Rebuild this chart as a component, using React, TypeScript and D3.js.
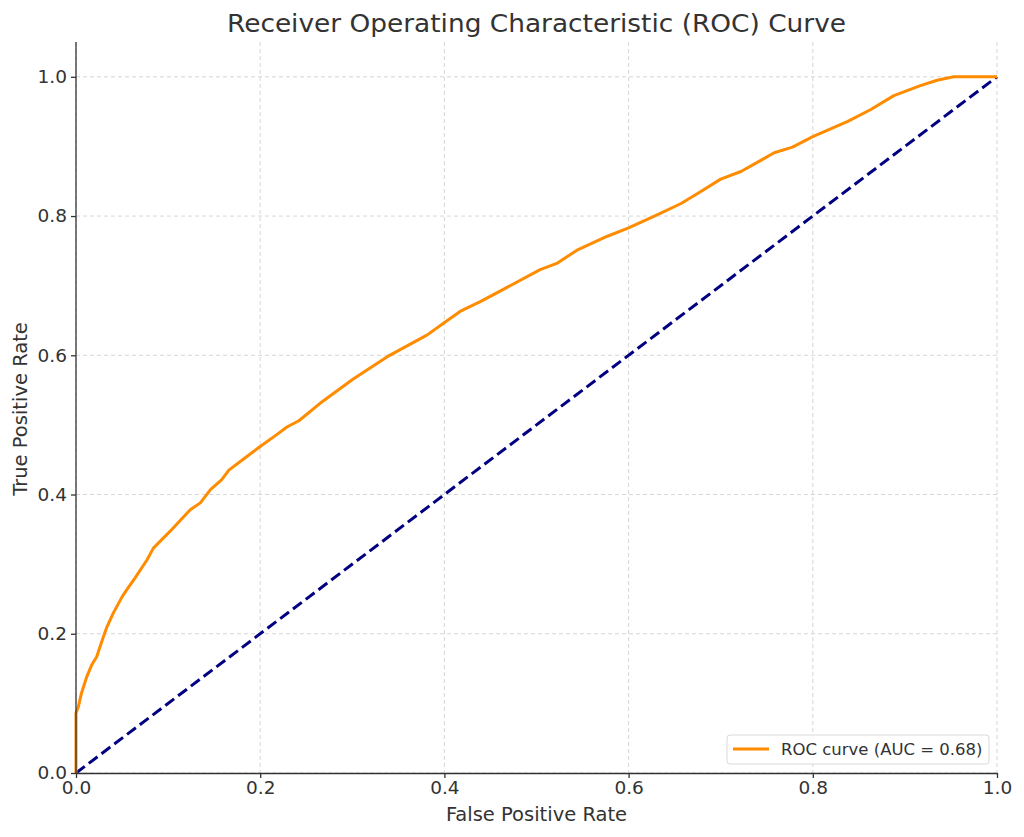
import { useEffect, useRef } from 'react';
import * as d3 from 'd3';

// ROC curve points
const fpr = [0, 0, 0.0025, 0.006, 0.0116, 0.017, 0.0225, 0.028, 0.033, 0.0406, 0.05, 0.055, 0.064, 0.077,
  0.084, 0.102, 0.124, 0.135, 0.146, 0.158, 0.166, 0.178, 0.2, 0.218, 0.229, 0.242, 0.265, 0.301, 0.338,
  0.381, 0.399, 0.417, 0.439, 0.463, 0.504, 0.522, 0.544, 0.577, 0.6, 0.628, 0.657, 0.678, 0.7, 0.722,
  0.745, 0.758, 0.778, 0.8, 0.838, 0.863, 0.888, 0.916, 0.935, 0.953, 1.0];
const tpr = [0, 0.086, 0.095, 0.115, 0.138, 0.155, 0.167, 0.189, 0.208, 0.23, 0.253, 0.263, 0.28, 0.306,
  0.323, 0.347, 0.378, 0.388, 0.407, 0.421, 0.435, 0.447, 0.469, 0.486, 0.497, 0.506, 0.531, 0.566, 0.598,
  0.629, 0.646, 0.663, 0.677, 0.694, 0.723, 0.732, 0.751, 0.771, 0.783, 0.8, 0.818, 0.835, 0.853, 0.864,
  0.881, 0.891, 0.899, 0.914, 0.936, 0.953, 0.973, 0.987, 0.995, 1.0, 1.0];
const chanceLine = [0, 1];
const tickValues = [0, 0.2, 0.4, 0.6, 0.8, 1.0];
const aucLabel = 'ROC curve (AUC = 0.68)';

const width = 1024;
const height = 837;
const margin = { top: 42, right: 27, bottom: 64, left: 76 };

export default function App() {
  const svgRef = useRef<SVGSVGElement>(null);

  useEffect(() => {
    document.body.style.margin = '0';
    if (!svgRef.current) return;
    const svg = d3.select(svgRef.current);
    svg.selectAll('*').remove();

    const innerW = width - margin.left - margin.right;
    const innerH = height - margin.top - margin.bottom;
    const font = 'DejaVu Sans, sans-serif';
    const textColor = '#333';

    const x = d3.scaleLinear().domain([0, 1]).range([0, innerW]);
    const y = d3.scaleLinear().domain([0, 1.05]).range([innerH, 0]);

    const g = svg.append('g').attr('transform', `translate(${margin.left},${margin.top})`);

    // grid
    g.append('g').selectAll('line').data(tickValues).join('line')
      .attr('x1', d => x(d)).attr('x2', d => x(d))
      .attr('y1', 0).attr('y2', innerH)
      .attr('stroke', '#cccccc').attr('stroke-width', 0.8).attr('stroke-dasharray', '4,3');
    g.append('g').selectAll('line').data(tickValues).join('line')
      .attr('y1', d => y(d)).attr('y2', d => y(d))
      .attr('x1', 0).attr('x2', innerW)
      .attr('stroke', '#cccccc').attr('stroke-width', 0.8).attr('stroke-dasharray', '4,3');

    // chance diagonal
    const line = d3.line<[number, number]>().x(d => x(d[0])).y(d => y(d[1]));
    g.append('path')
      .datum(chanceLine.map(v => [v, v] as [number, number]))
      .attr('d', line)
      .attr('fill', 'none').attr('stroke', '#000080').attr('stroke-width', 3)
      .attr('stroke-dasharray', '11,5');

    // ROC curve
    g.append('path')
      .datum(fpr.map((v, i) => [v, tpr[i]] as [number, number]))
      .attr('d', line)
      .attr('fill', 'none').attr('stroke', '#ff8c00').attr('stroke-width', 3)
      .attr('stroke-linejoin', 'round');

    // axes
    const xAxis = g.append('g').attr('transform', `translate(0,${innerH})`)
      .call(d3.axisBottom(x).tickValues(tickValues).tickFormat(d3.format('.1f')).tickSize(5).tickSizeOuter(0));
    const yAxis = g.append('g')
      .call(d3.axisLeft(y).tickValues(tickValues).tickFormat(d3.format('.1f')).tickSize(5).tickSizeOuter(0));
    [xAxis, yAxis].forEach(a => {
      a.select('.domain').attr('stroke', textColor).attr('stroke-width', 1.3);
      a.selectAll('.tick line').attr('stroke', textColor).attr('stroke-width', 1.3);
      a.selectAll('.tick text').attr('font-family', font).attr('font-size', 18.5).attr('fill', textColor);
    });
    xAxis.selectAll('.tick text').attr('dy', 0).attr('y', 21);
    yAxis.selectAll('.tick text').attr('x', -9);
    // redraw the left spine over the full height
    yAxis.select('.domain').attr('d', `M0,${innerH}V0`);

    // legend
    const lg = g.append('g').attr('transform', `translate(${x(0) + 651},${innerH - 38})`);
    lg.append('rect').attr('width', 262).attr('height', 29).attr('rx', 3)
      .attr('fill', 'white').attr('fill-opacity', 0.8).attr('stroke', '#d9d9d9');
    lg.append('line').attr('x1', 6).attr('x2', 42).attr('y1', 14).attr('y2', 14)
      .attr('stroke', '#ff8c00').attr('stroke-width', 3);
    lg.append('text').attr('x', 54).attr('y', 20).text(aucLabel)
      .attr('font-family', font).attr('font-size', 16.5).attr('fill', textColor);

    // titles
    svg.append('text').attr('x', margin.left + innerW / 2).attr('y', 32)
      .attr('text-anchor', 'middle').attr('font-family', font).attr('font-size', 24)
      .attr('fill', textColor).attr('textLength', 619).attr('lengthAdjust', 'spacingAndGlyphs')
      .text('Receiver Operating Characteristic (ROC) Curve');
    svg.append('text').attr('x', margin.left + innerW / 2).attr('y', 821)
      .attr('text-anchor', 'middle').attr('font-family', font).attr('font-size', 19.5)
      .attr('fill', textColor).text('False Positive Rate');
    svg.append('text').attr('transform', `translate(27,409) rotate(-90)`)
      .attr('text-anchor', 'middle').attr('font-family', font).attr('font-size', 19.5)
      .attr('fill', textColor).text('True Positive Rate');
  }, []);

  return <svg ref={svgRef} width={width} height={height} style={{ display: 'block', background: 'white' }} />;
}
